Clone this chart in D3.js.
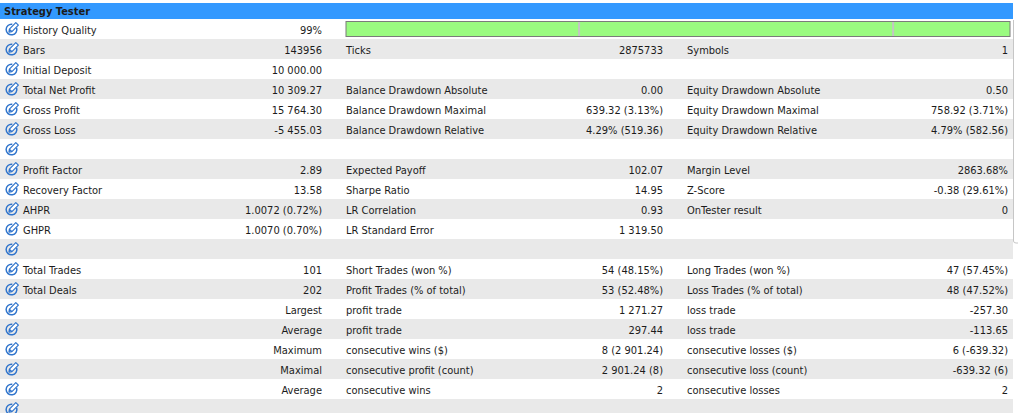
<!DOCTYPE html>
<html>
<head>
<meta charset="utf-8">
<script src="https://cdn.jsdelivr.net/npm/d3@7"></script>
<style>
  html, body { margin: 0; padding: 0; background: #fff; overflow: hidden; }
  svg text { font-family: "DejaVu Sans Condensed", "Liberation Sans", sans-serif; font-size: 11px; fill: #1c1c1c; }
</style>
</head>
<body>
<svg class="report"></svg>
<script>
const title = "Strategy Tester";

const labels1 = ["History Quality", "Bars", "Initial Deposit", "Total Net Profit", "Gross Profit", "Gross Loss", "",
  "Profit Factor", "Recovery Factor", "AHPR", "GHPR", "", "Total Trades", "Total Deals", "", "", "", "", "", ""];
const values1 = ["99%", "143956", "10 000.00", "10 309.27", "15 764.30", "-5 455.03", "",
  "2.89", "13.58", "1.0072 (0.72%)", "1.0070 (0.70%)", "", "101", "202",
  "Largest", "Average", "Maximum", "Maximal", "Average", ""];

const labels2 = ["", "Ticks", "", "Balance Drawdown Absolute", "Balance Drawdown Maximal", "Balance Drawdown Relative", "",
  "Expected Payoff", "Sharpe Ratio", "LR Correlation", "LR Standard Error", "",
  "Short Trades (won %)", "Profit Trades (% of total)", "profit trade", "profit trade",
  "consecutive wins ($)", "consecutive profit (count)", "consecutive wins", ""];
const values2 = ["", "2875733", "", "0.00", "639.32 (3.13%)", "4.29% (519.36)", "",
  "102.07", "14.95", "0.93", "1 319.50", "", "54 (48.15%)", "53 (52.48%)",
  "1 271.27", "297.44", "8 (2 901.24)", "2 901.24 (8)", "2", ""];

const labels3 = ["", "Symbols", "", "Equity Drawdown Absolute", "Equity Drawdown Maximal", "Equity Drawdown Relative", "",
  "Margin Level", "Z-Score", "OnTester result", "", "", "Long Trades (won %)", "Loss Trades (% of total)",
  "loss trade", "loss trade", "consecutive losses ($)", "consecutive loss (count)", "consecutive losses", ""];
const values3 = ["", "1", "", "0.50", "758.92 (3.71%)", "4.79% (582.56)", "",
  "2863.68%", "-0.38 (29.61%)", "0", "", "", "47 (57.45%)", "48 (47.52%)",
  "-257.30", "-113.65", "6 (-639.32)", "-639.32 (6)", "2", ""];

// history quality bar cells (percent of bar)
const qualityCells = [0, 35.1, 82.4, 100];

const width = 1018;
const height = 413;
const tableRight = 1013;

const svg = d3.select('.report')
  .attr('width', width)
  .attr('height', height);

// row positions
const y = d3.scaleBand()
  .domain(d3.range(labels1.length))
  .range([19, 19 + 20 * labels1.length])
  .padding(0);

// header
svg.append('rect')
  .attr('x', 0).attr('y', 3)
  .attr('width', tableRight).attr('height', 16)
  .attr('fill', '#3399ff');
svg.append('text')
  .attr('x', 4).attr('y', 15)
  .attr('font-weight', 'bold')
  .attr('fill', '#111')
  .text(title);

// row stripes
svg.selectAll('rect.row')
  .data(d3.range(labels1.length))
  .join('rect')
  .attr('class', 'row')
  .attr('x', 0)
  .attr('y', d => y(d))
  .attr('width', tableRight)
  .attr('height', y.bandwidth())
  .attr('fill', d => d % 2 ? '#e9e9e9' : '#ffffff');

// edit icons
const arc = d3.arc().innerRadius(4.6).outerRadius(6.1)
  .startAngle(1.25).endAngle(Math.PI * 2 + 0.15);
const icons = svg.selectAll('g.icon')
  .data(d3.range(labels1.length))
  .join('g')
  .attr('class', 'icon')
  .attr('transform', d => `translate(11.5,${y(d) + 10.5})`);
icons.append('path')
  .attr('d', arc())
  .attr('fill', '#2f74cc');
icons.append('path')
  .attr('transform', 'translate(1,-1) rotate(-45)')
  .attr('d', 'M-5,0 L-2.6,-1.8 L6.5,-1.8 L6.5,1.8 L-2.6,1.8 Z M-2.6,-1.8 L-2.6,1.8')
  .attr('fill', '#fff')
  .attr('stroke', '#2f74cc')
  .attr('stroke-width', 1.2)
  .attr('stroke-linejoin', 'round');

// history quality bar
const qx = d3.scaleLinear().domain([0, 100]).range([346, 1010]);
svg.append('rect')
  .attr('x', qx(0)).attr('y', 21.5)
  .attr('width', qx(100) - qx(0)).attr('height', 15)
  .attr('fill', '#9afb80')
  .attr('stroke', '#7b7b7b');
svg.selectAll('line.cell')
  .data(qualityCells.slice(1, -1))
  .join('line')
  .attr('class', 'cell')
  .attr('x1', d => qx(d)).attr('x2', d => qx(d))
  .attr('y1', 22).attr('y2', 36)
  .attr('stroke', '#c4c4c4')
  .attr('stroke-width', 2);

// text columns
const columns = [
  { labels: labels1, values: values1, labelX: 23, valueX: 322 },
  { labels: labels2, values: values2, labelX: 346, valueX: 663 },
  { labels: labels3, values: values3, labelX: 687, valueX: 1008 },
];

columns.forEach(col => {
  svg.append('g').selectAll('text')
    .data(col.labels)
    .join('text')
    .attr('x', col.labelX)
    .attr('y', (d, i) => y(i) + 15)
    .text(d => d);
  svg.append('g').selectAll('text')
    .data(col.values)
    .join('text')
    .attr('x', col.valueX)
    .attr('y', (d, i) => y(i) + 15)
    .attr('text-anchor', 'end')
    .text(d => d);
});

// right border of the panel
svg.append('path')
  .attr('d', `M${tableRight + 0.5},20 V241 Q${tableRight + 0.5},243 ${tableRight + 3},243 H${width}`)
  .attr('fill', 'none')
  .attr('stroke', '#c6c6c6');
</script>
</body>
</html>
